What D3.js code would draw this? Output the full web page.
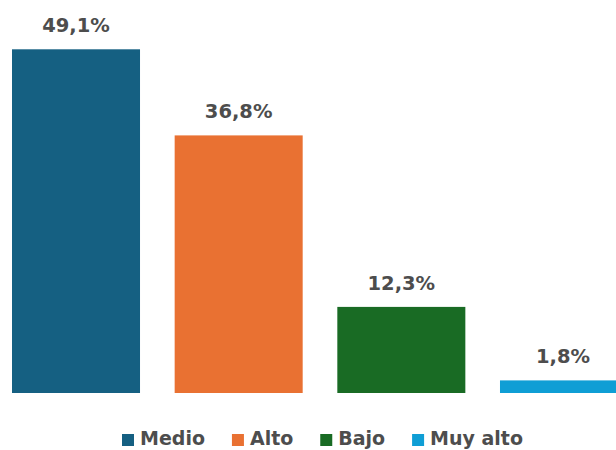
<!DOCTYPE html>
<html>
<head>
<meta charset="utf-8">
<script src="https://cdn.jsdelivr.net/npm/d3@7"></script>
<style>
  html, body { margin: 0; padding: 0; background: #ffffff; }
  svg { display: block; }
</style>
</head>
<body>
<svg id="chart" width="616" height="450"></svg>
<script>
// Distribución por nivel
const categories = ["Medio", "Alto", "Bajo", "Muy alto"];
const values = [49.1, 36.8, 12.3, 1.8];
const labels = ["49,1%", "36,8%", "12,3%", "1,8%"];
const colors = ["#156082", "#E97132", "#196B24", "#0F9ED5"];

const W = 616, H = 450;
const svg = d3.select("#chart");
const fontFamily = "'DejaVu Sans', sans-serif";

const x = d3.scaleBand()
  .domain(categories)
  .range([12, 628])
  .paddingInner(0.213)
  .paddingOuter(0);

const y = d3.scaleLinear()
  .domain([0, 50])
  .range([393, 43]);

const color = d3.scaleOrdinal().domain(categories).range(colors);

const data = categories.map((c, i) => ({ cat: c, value: values[i], label: labels[i] }));

// Bars
svg.append("g")
  .selectAll("rect")
  .data(data)
  .join("rect")
  .attr("x", d => x(d.cat))
  .attr("y", d => y(d.value))
  .attr("width", x.bandwidth())
  .attr("height", d => y(0) - y(d.value))
  .attr("fill", d => color(d.cat));

// Value labels
svg.append("g")
  .selectAll("text")
  .data(data)
  .join("text")
  .attr("x", d => Math.min(x(d.cat) + x.bandwidth() / 2, 563))
  .attr("y", d => y(d.value) - 17)
  .attr("text-anchor", "middle")
  .attr("font-family", fontFamily)
  .attr("font-weight", 700)
  .attr("font-size", 19.5)
  .attr("fill", "#4d4d4d")
  .text(d => d.label);

// Legend
const legend = svg.append("g").attr("class", "legend");
const items = legend.selectAll("g")
  .data(categories)
  .join("g");

const sq = 12, sqGap = 6;
items.append("rect")
  .attr("width", sq)
  .attr("height", sq)
  .attr("y", -11)
  .attr("fill", d => color(d));

items.append("text")
  .attr("x", sq + sqGap)
  .attr("y", 0)
  .attr("font-family", fontFamily)
  .attr("font-weight", 700)
  .attr("font-size", 19)
  .attr("fill", "#4d4d4d")
  .text(d => d);

const widths = [];
items.each(function() {
  const t = d3.select(this).select("text").node().getComputedTextLength();
  widths.push(sq + sqGap + t);
});
// spread the entries between the legend's two ends
const left = 122, right = 523;
const gap = (right - left - d3.sum(widths)) / (widths.length - 1);
let offset = 0;
items.attr("transform", (d, i) => {
  const tx = left + offset;
  offset += widths[i] + gap;
  return `translate(${tx},445)`;
});
</script>
</body>
</html>
